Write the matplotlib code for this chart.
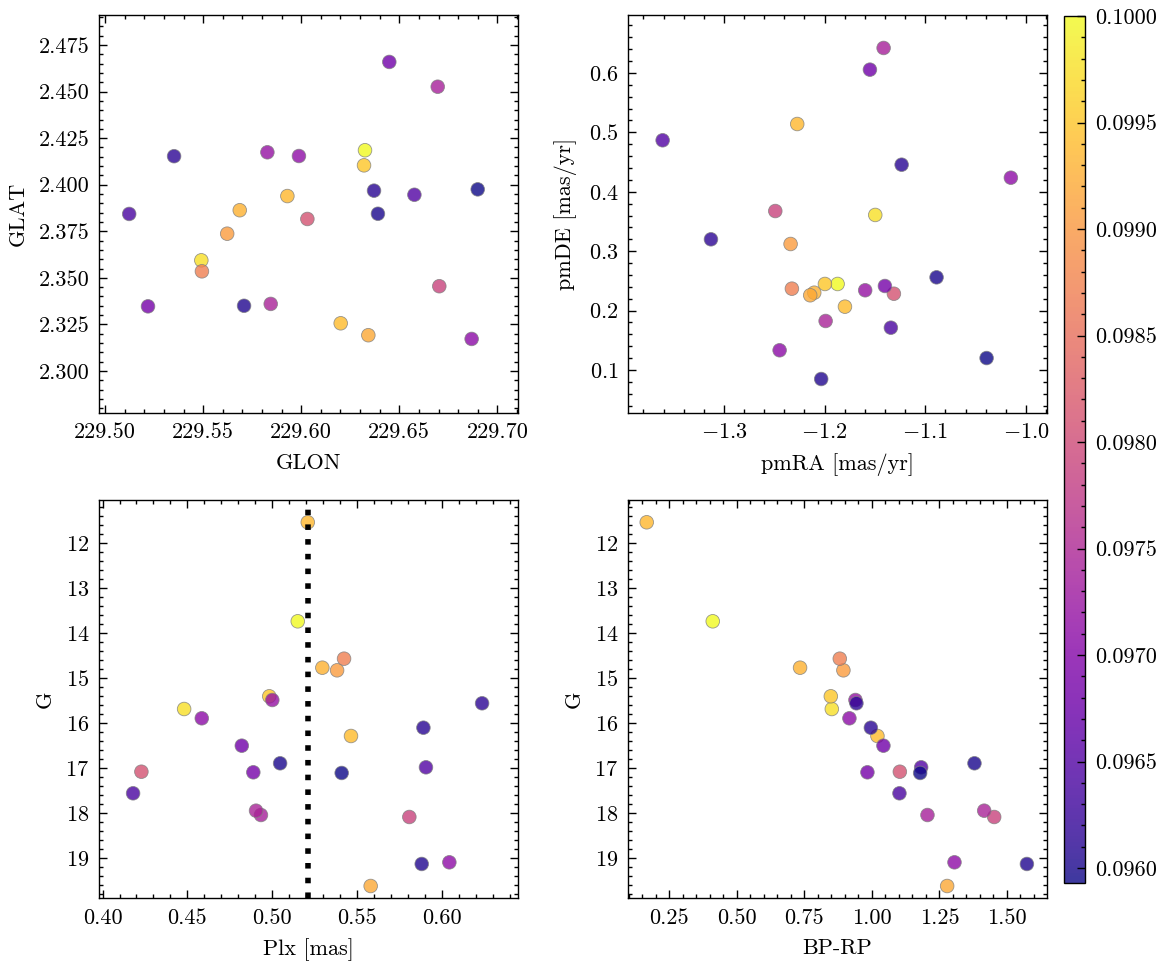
import matplotlib
matplotlib.use("Agg")
import matplotlib.pyplot as plt
from matplotlib.ticker import AutoMinorLocator, ScalarFormatter, MultipleLocator, FormatStrFormatter
import numpy as np

plt.rcParams.update({
    "font.family": "serif",
    "font.serif": ["cmr10"],
    "mathtext.fontset": "cm",
    "axes.formatter.use_mathtext": True,
    "font.size": 8,
    "axes.linewidth": 0.5,
    "xtick.direction": "in",
    "ytick.direction": "in",
    "xtick.top": True,
    "ytick.right": True,
    "xtick.major.size": 3,
    "ytick.major.size": 3,
    "xtick.minor.size": 1.5,
    "ytick.minor.size": 1.5,
    "xtick.major.width": 0.5,
    "ytick.major.width": 0.5,
    "xtick.minor.width": 0.5,
    "ytick.minor.width": 0.5,
    "xtick.minor.visible": True,
    "ytick.minor.visible": True,
})

# ---- data (one entry per star) ----
prob = [0.10000, 0.09975, 0.09952, 0.09935, 0.09930, 0.09905, 0.09940, 0.09920,
        0.09870, 0.09810, 0.09790,
        0.09740, 0.09745, 0.09720, 0.09712, 0.09710, 0.09680, 0.09685,
        0.09650, 0.09640, 0.09615, 0.09612, 0.09600, 0.09593, 0.09605]

glon = [229.6325, 229.5490, 229.6320, 229.5929, 229.5686, 229.5622, 229.6201, 229.6342,
        229.5493, 229.6031, 229.6704,
        229.6696, 229.5844, 229.5827, 229.5988, 229.6869, 229.6449, 229.5218,
        229.6577, 229.5122, 229.5351, 229.6371, 229.6391, 229.6900, 229.5708]
glat = [2.4185, 2.3594, 2.4104, 2.3939, 2.3863, 2.3737, 2.3256, 2.3192,
        2.3535, 2.3816, 2.3455,
        2.4526, 2.3360, 2.4174, 2.4154, 2.3172, 2.4659, 2.3347,
        2.3946, 2.3843, 2.4153, 2.3968, 2.3844, 2.3975, 2.3350]

pmra = [-1.1871, -1.1497, -1.1997, -1.2272, -1.2103, -1.2338, -1.1798, -1.2143,
        -1.2325, -1.1312, -1.2490,
        -1.1414, -1.1990, -1.1597, -1.0150, -1.2447, -1.1550, -1.1401,
        -1.3609, -1.1342, -1.3129, -1.1235, -1.0888, -1.0391, -1.2034]
pmde = [0.2448, 0.3610, 0.2448, 0.5141, 0.2301, 0.3121, 0.2066, 0.2258,
        0.2369, 0.2284, 0.3676,
        0.6421, 0.1825, 0.2342, 0.4237, 0.1332, 0.6056, 0.2414,
        0.4867, 0.1712, 0.3200, 0.4456, 0.2560, 0.1201, 0.0848]

plx = [0.5151, 0.4481, 0.4983, 0.5210, 0.5296, 0.5383, 0.5465, 0.5581,
       0.5424, 0.4229, 0.5809,
       0.4934, 0.4905, 0.5001, 0.6045, 0.4585, 0.4821, 0.4889,
       0.5907, 0.4180, 0.6238, 0.5892, 0.5047, 0.5410, 0.5882]
gmag = [13.738, 15.685, 15.403, 11.540, 14.768, 14.826, 16.284, 19.614,
        14.568, 17.077, 18.082,
        18.038, 17.942, 15.485, 19.088, 15.891, 16.499, 17.090,
        16.979, 17.556, 15.558, 16.100, 16.890, 17.105, 19.125]
bprp = [0.4107, 0.8515, 0.8478, 0.1663, 0.7340, 0.8944, 1.0204, 1.2785,
        0.8810, 1.1033, 1.4526,
        1.2056, 1.4156, 0.9390, 1.3056, 0.9167, 1.0426, 0.9833,
        1.1822, 1.1019, 0.9426, 0.9960, 1.3796, 1.1785, 1.5737]

plx_mean = 0.521

W, H = 1166, 965
fig = plt.figure(figsize=(W / 200, H / 200), dpi=200)

def frac(x0, y0, x1, y1):
    return [x0 / W, 1 - y1 / H, (x1 - x0) / W, (y1 - y0) / H]

ax_tl = fig.add_axes(frac(99, 15, 517.7, 412.7))
ax_tr = fig.add_axes(frac(628, 15, 1046.7, 412.7))
ax_bl = fig.add_axes(frac(99, 500.3, 517.7, 898.3))
ax_br = fig.add_axes(frac(628, 500.3, 1046.7, 898.3))
cax = fig.add_axes(frac(1064, 16, 1085, 883))

vmin, vmax = min(prob), max(prob)
kw = dict(c=prob, cmap="plasma", vmin=vmin, vmax=vmax, s=24, alpha=0.8,
          edgecolors="gray", linewidths=0.3)

sc = ax_tl.scatter(glon, glat, **kw)
ax_tl.set_xlim(229.4968, 229.7104)
ax_tl.set_ylim(2.2776, 2.4911)
ax_tl.set_xlabel("GLON")
ax_tl.set_ylabel("GLAT")
ax_tl.xaxis.set_major_locator(MultipleLocator(0.05))
ax_tl.yaxis.set_major_locator(MultipleLocator(0.025))

ax_tr.scatter(pmra, pmde, **kw)
ax_tr.set_xlim(-1.3953, -0.9794)
ax_tr.set_ylim(0.0281, 0.6976)
ax_tr.set_xlabel("pmRA [mas/yr]")
ax_tr.set_ylabel("pmDE [mas/yr]")
ax_tr.xaxis.set_major_locator(MultipleLocator(0.1))
ax_tr.yaxis.set_major_locator(MultipleLocator(0.1))

ax_bl.scatter(plx, gmag, **kw)
ax_bl.axvline(plx_mean, color="k", ls=":", lw=2, zorder=3)
ax_bl.set_xlim(0.3979, 0.6448)
ax_bl.set_ylim(19.887, 11.052)
ax_bl.set_xlabel("Plx [mas]")
ax_bl.set_ylabel("G")
ax_bl.xaxis.set_major_locator(MultipleLocator(0.05))
ax_bl.yaxis.set_major_locator(MultipleLocator(1))

ax_br.scatter(bprp, gmag, **kw)
ax_br.set_xlim(0.097, 1.647)
ax_br.set_ylim(19.887, 11.052)
ax_br.set_xlabel("BP-RP")
ax_br.set_ylabel("G")
ax_br.xaxis.set_major_locator(MultipleLocator(0.25))
ax_br.yaxis.set_major_locator(MultipleLocator(1))

for ax in (ax_tl, ax_tr, ax_bl, ax_br):
    ax.xaxis.set_minor_locator(AutoMinorLocator(5))
    ax.yaxis.set_minor_locator(AutoMinorLocator(5))
    for axis in (ax.xaxis, ax.yaxis):
        axis.set_major_formatter(ScalarFormatter(useOffset=False, useMathText=True))

ax_tl.xaxis.set_major_formatter(FormatStrFormatter("%.2f"))
ax_tl.yaxis.set_major_formatter(FormatStrFormatter("%.3f"))
ax_bl.xaxis.set_major_formatter(FormatStrFormatter("%.2f"))
ax_br.xaxis.set_major_formatter(FormatStrFormatter("%.2f"))

cb = fig.colorbar(sc, cax=cax)
cb.set_ticks(np.arange(0.0960, 0.10001, 0.0005))
cb.ax.yaxis.set_major_formatter(FormatStrFormatter("%.4f"))
cb.ax.yaxis.set_minor_locator(MultipleLocator(0.0001))
cb.ax.tick_params(which="both", direction="in", left=False, right=True)
cb.outline.set_linewidth(0.5)

fig.savefig("out.png", dpi=200)
